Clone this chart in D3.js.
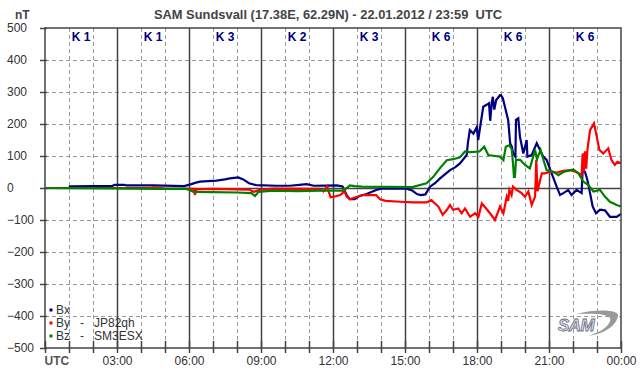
<!DOCTYPE html>
<html>
<head>
<meta charset="utf-8">
<script src="https://cdn.jsdelivr.net/npm/d3@7"></script>
<style>
  body { margin: 0; background: #fff; }
  svg { display: block; font-family: "Liberation Sans", Arial, sans-serif; }
</style>
</head>
<body>
<div id="chart"></div>
<script>
// hours UTC, nT
var bx = [[0,0],[1,0],[1.05,5],[2,6],[2.8,6],[2.9,10],[3.3,10],[3.4,8],[4.5,8],[5.8,6],[6.1,12],[6.25,16],[6.46,20],[7.15,23],[7.5,27],[7.7,30],[8.05,33],[8.26,27],[8.5,15],[8.8,9],[9.65,7],[10.2,7],[10.6,10],[10.9,12],[11.2,7],[12.16,8],[12.4,5],[12.57,-22],[12.7,-35],[12.9,-35],[13.1,-25],[13.4,-19],[13.8,-6],[14.0,-2],[15.07,-2],[15.3,-8],[15.5,-19],[15.65,-22],[15.85,-20],[16.04,4],[16.25,15],[16.46,30],[16.7,45],[16.875,56],[17.1,65],[17.29,77],[17.57,103],[17.62,140],[17.7,181],[17.85,170],[17.99,190],[18.05,150],[18.1,175],[18.26,254],[18.4,260],[18.5,265],[18.55,210],[18.62,270],[18.66,285],[18.72,245],[18.8,275],[18.96,290],[19.0,290],[19.08,280],[19.16,255],[19.3,212],[19.38,140],[19.45,129],[19.51,108],[19.6,98],[19.625,213],[19.72,218],[19.79,160],[19.93,108],[20.07,150],[20.1,98],[20.28,103],[20.49,140],[20.625,119],[20.76,98],[20.9,88],[21.11,46],[21.32,4],[21.46,-22],[21.6,-16],[21.8,-6],[21.94,-22],[22.15,-6],[22.36,-16],[22.4,56],[22.5,50],[22.6,25],[22.71,-16],[22.82,-58],[22.96,-79],[23.125,-68],[23.33,-70],[23.54,-90],[23.82,-90],[24,-81]];

var by = [[0,0],[4.4,0],[4.5,2],[5,-2],[6.2,-3],[6.25,-22],[6.3,-4],[7,-3],[8.5,-5],[8.7,-12],[8.95,-6],[9.5,-2],[11.0,-3],[11.46,-3],[11.6,-11],[11.75,5],[11.9,-29],[12.0,-28],[12.3,-22],[12.4,-16],[12.45,-5],[12.57,-27],[12.7,-35],[13.1,-25],[13.3,-22],[13.8,-22],[13.96,-35],[14.2,-40],[14.8,-43],[15.35,-45],[15.9,-45],[16.1,-38],[16.39,-58],[16.57,-84],[16.74,-69],[16.875,-53],[17.0,-68],[17.22,-64],[17.36,-79],[17.5,-64],[17.71,-90],[17.92,-79],[18.06,-90],[18.2,-48],[18.38,-64],[18.54,-79],[18.75,-100],[18.96,-58],[19.1,-79],[19.24,-27],[19.3,-40],[19.35,-6],[19.44,-22],[19.5,4],[19.65,-6],[19.86,-16],[20,-27],[20.14,-11],[20.28,-53],[20.42,-27],[20.47,88],[20.52,-10],[20.7,46],[20.83,46],[21.04,51],[21.32,48],[21.6,54],[21.875,56],[22.15,50],[22.36,40],[22.4,108],[22.45,50],[22.5,115],[22.55,60],[22.6,119],[22.71,181],[22.875,202],[22.99,160],[23.1,119],[23.26,108],[23.47,124],[23.6,88],[23.74,72],[23.85,82],[24,77]];

var bz = [[0,0],[2.8,-1],[4.6,-3],[5.9,-3],[6.2,-12],[7,-13],[8.0,-14],[8.6,-16],[8.75,-25],[8.9,-12],[9.5,-8],[10.5,-10],[11.5,-8],[12.4,-8],[12.57,0],[12.7,8],[12.9,6],[13.2,4],[15.3,3],[15.9,15],[16.18,35],[16.5,66],[16.74,87],[17.01,90],[17.29,96],[17.5,114],[17.7,112],[18.1,114],[18.3,129],[18.47,103],[18.75,100],[18.96,98],[19.1,87],[19.2,129],[19.35,134],[19.45,120],[19.5,77],[19.54,35],[19.58,35],[19.625,88],[19.8,88],[20,72],[20.2,61],[20.42,119],[20.5,90],[20.65,119],[20.76,90],[20.9,56],[21.18,51],[21.39,40],[21.6,50],[22.01,58],[22.22,46],[22.43,20],[22.64,9],[22.85,-11],[23.125,-6],[23.33,-27],[23.54,-43],[23.82,-53],[24,-58]];

var kIndex = ["K 1", "K 1", "K 3", "K 2", "K 3", "K 6", "K 6", "K 6"];
var xLabels = ["UTC", "03:00", "06:00", "09:00", "12:00", "15:00", "18:00", "21:00", "00:00"];
var yTicks = [-500, -400, -300, -200, -100, 0, 100, 200, 300, 400, 500];
// activity bar: [start, end, colour]
var status = [[0, 15, "#00ff00"], [15, 24, "#ff0000"]];
var series = [
  { name: "Bx", label: "Bx", data: bx, color: "#000080" },
  { name: "By", label: "By   -   JP82qh", data: by, color: "#ff0000" },
  { name: "Bz", label: "Bz   -   SM3ESX", data: bz, color: "#008000" }
];

var svg = d3.select("#chart").append("svg").attr("width", 642).attr("height", 376);
var margin = { top: 28, left: 45, bottom: 28, right: 21 };
var width = 642 - margin.left - margin.right;
var height = 376 - margin.top - margin.bottom;

var x = d3.scaleLinear().domain([0, 24]).range([margin.left, margin.left + width]);
var y = d3.scaleLinear().domain([-500, 500]).range([margin.top + height, margin.top]);

svg.append("rect").attr("width", 642).attr("height", 376).attr("fill", "#fff");

// grid
var grid = svg.append("g");
grid.selectAll(".hg")
  .data(yTicks.filter((d) => d > -500 && d < 500))
  .enter().append("line")
  .attr("x1", x(0)).attr("x2", x(24))
  .attr("y1", (d) => Math.round(y(d)) + 0.5).attr("y2", (d) => Math.round(y(d)) + 0.5)
  .attr("stroke", (d) => (d === 0 ? "#444" : "#999"))
  .attr("stroke-width", (d) => (d === 0 ? 1.5 : 1))
  .attr("stroke-dasharray", (d) => (d === 0 ? null : "4,3"));

grid.selectAll(".vg")
  .data(d3.range(1, 24))
  .enter().append("line")
  .attr("y1", y(500)).attr("y2", y(-500))
  .attr("x1", (d) => Math.round(x(d)) + 0.5).attr("x2", (d) => Math.round(x(d)) + 0.5)
  .attr("stroke", (d) => (d % 3 === 0 ? "#444" : "#999"))
  .attr("stroke-width", (d) => (d % 3 === 0 ? 1.5 : 1))
  .attr("stroke-dasharray", (d) => (d % 3 === 0 ? null : "4,3"));

// K index
svg.append("g").selectAll("text")
  .data(kIndex)
  .enter().append("text")
  .attr("x", (d, i) => x(i * 3 + 1.5))
  .attr("y", 41)
  .attr("text-anchor", "middle")
  .attr("font-size", 12)
  .attr("font-weight", "bold")
  .attr("fill", "#000080")
  .text((d) => d);

// data
var line = d3.line().x((d) => x(d[0])).y((d) => y(d[1]));
svg.append("g").selectAll("path")
  .data(series)
  .enter().append("path")
  .attr("d", (d) => line(d.data))
  .attr("fill", "none")
  .attr("stroke", (d) => d.color)
  .attr("stroke-width", 2.2)
  .attr("stroke-linejoin", "miter");

// status bar
svg.append("g").selectAll("rect")
  .data(status)
  .enter().append("rect")
  .attr("x", (d) => x(d[0]))
  .attr("width", (d) => x(d[1]) - x(d[0]))
  .attr("y", y(-500) - 7)
  .attr("height", 7)
  .attr("fill", (d) => d[2]);

// frame
svg.append("rect")
  .attr("x", x(0)).attr("y", y(500))
  .attr("width", x(24) - x(0)).attr("height", y(-500) - y(500))
  .attr("fill", "none").attr("stroke", "#444").attr("stroke-width", 1.5);

// axes
var xAxis = svg.append("g")
  .attr("transform", `translate(0,${y(-500)})`)
  .call(d3.axisBottom(x).tickValues(d3.range(0, 25)).tickSize(5).tickPadding(3)
    .tickFormat((d) => (d % 3 === 0 ? xLabels[d / 3] : "")));
xAxis.select(".domain").remove();
xAxis.selectAll("line").attr("stroke", "#444").attr("stroke-width", 1.5).attr("y1", -7);
xAxis.selectAll("text").attr("font-size", 12).attr("fill", "#333").attr("font-family", null);
xAxis.selectAll("text").filter((d) => d === 0)
  .attr("text-anchor", "start").attr("font-weight", "bold").attr("x", -1).attr("fill", "#555");

var yAxis = svg.append("g")
  .attr("transform", `translate(${x(0)},0)`)
  .call(d3.axisLeft(y).tickValues(yTicks).tickSize(5));
yAxis.select(".domain").remove();
yAxis.selectAll("line").attr("stroke", "#444").attr("stroke-width", 1.5).attr("x2", -5).attr("x1", 2);
yAxis.selectAll("text")
  .attr("font-size", 12).attr("fill", "#333").attr("font-family", null)
  .attr("text-anchor", "start").attr("x", 7 - x(0));

// title
svg.append("text")
  .attr("x", 328).attr("y", 19)
  .attr("text-anchor", "middle")
  .attr("font-size", 12.9).attr("font-weight", "bold").attr("fill", "#444")
  .attr("xml:space", "preserve")
  .text("SAM Sundsvall (17.38E, 62.29N) - 22.01.2012 / 23:59  UTC");
svg.append("text")
  .attr("x", 15).attr("y", 19)
  .attr("font-size", 12).attr("font-weight", "bold").attr("fill", "#444")
  .text("nT");

// legend
var legend = svg.append("g").selectAll("g")
  .data(series)
  .enter().append("g")
  .attr("transform", (d, i) => `translate(51,${310 + i * 13})`);
legend.append("rect").attr("x", -1.5).attr("y", -1.5).attr("width", 3).attr("height", 3)
  .attr("fill", (d) => d.color);
legend.append("text").attr("x", 5).attr("dy", "0.35em")
  .attr("font-size", 12).attr("fill", "#333")
  .style("white-space", "pre")
  .text((d) => d.label);

// SAM logo
var logo = svg.append("g").attr("transform", "translate(558,312)");
logo.append("path")
  .attr("d", "M18,2 C40,-4 62,-2 60,4 C58,14 46,22 30,24 C44,20 54,12 52,6 C50,2 36,1 18,2 Z")
  .attr("fill", "#999");
logo.append("text")
  .attr("x", 0).attr("y", 19)
  .attr("font-size", 17).attr("font-style", "italic").attr("font-weight", "bold")
  .attr("fill", "#dfe2ee").attr("stroke", "#666a80").attr("stroke-width", 0.8)
  .attr("letter-spacing", -0.5)
  .text("SAM");
</script>
</body>
</html>
